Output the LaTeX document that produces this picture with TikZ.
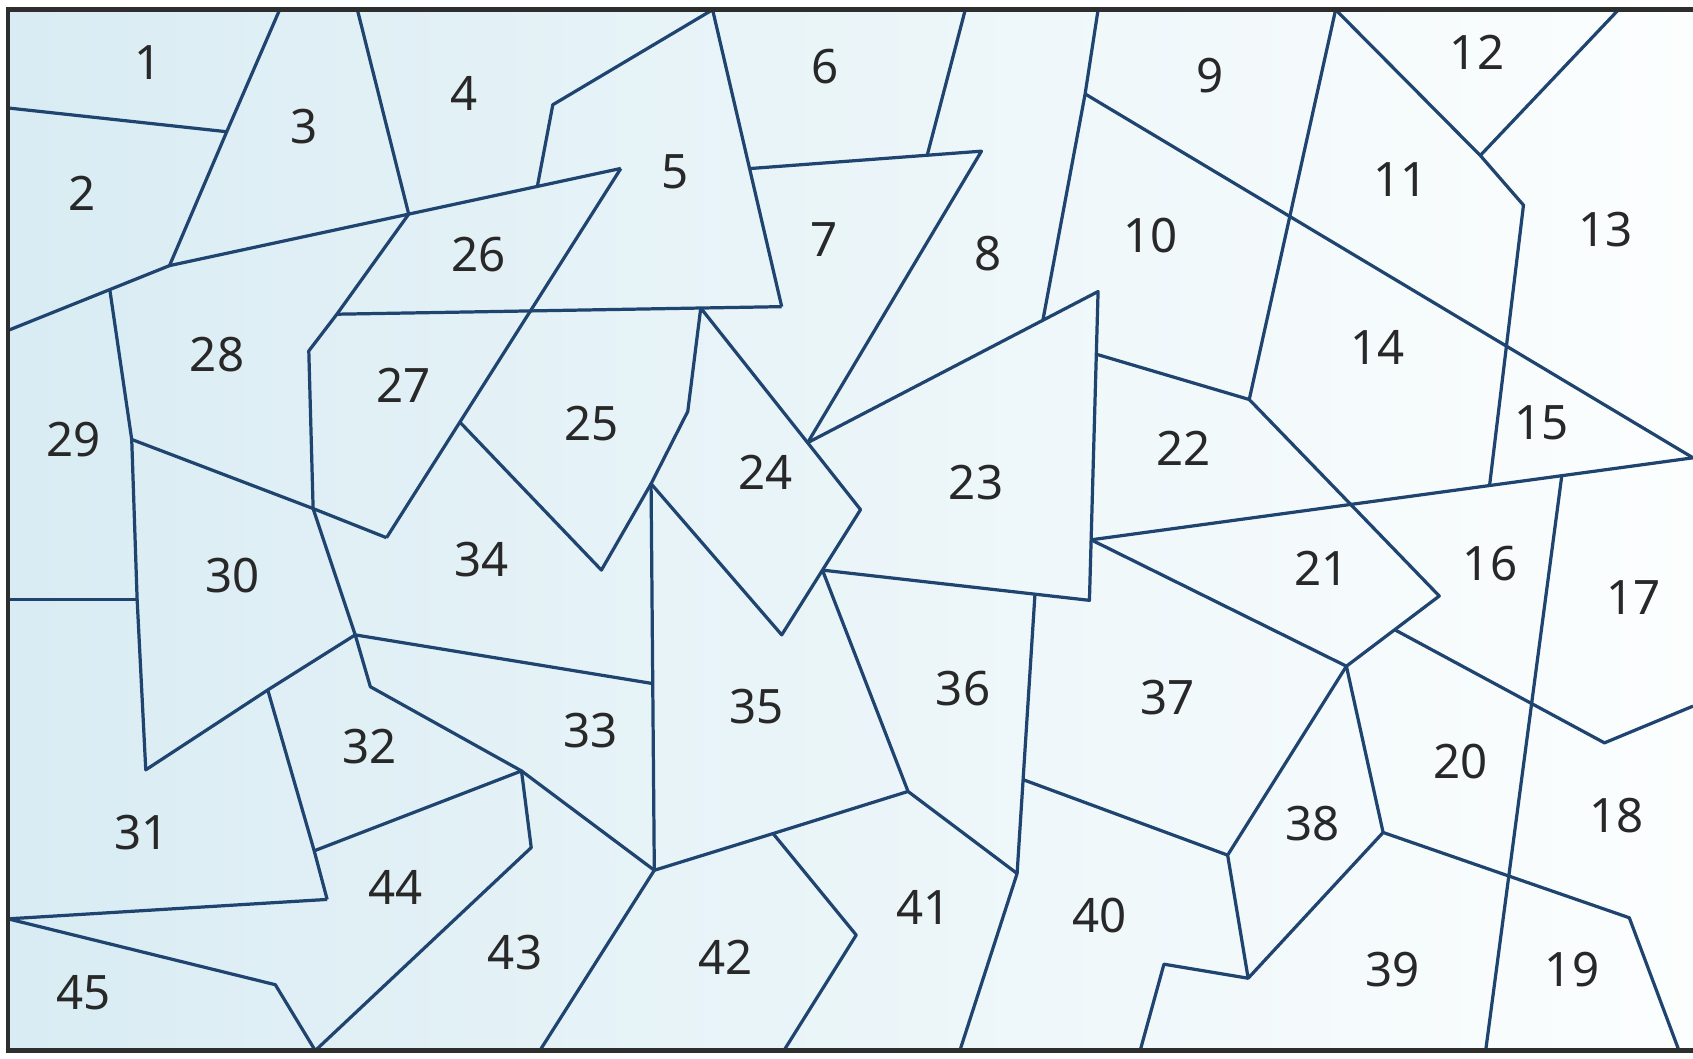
\documentclass[tikz,border=0pt]{standalone}
\usepackage{fontspec}
\setmainfont{Noto Sans}
\usetikzlibrary{calc}

\definecolor{edgeblue}{HTML}{1F4470}
\definecolor{framegray}{HTML}{2E2E2E}
\definecolor{mapleft}{HTML}{D9ECF3}
\definecolor{mapright}{HTML}{FCFEFE}
\definecolor{labelgray}{HTML}{282828}

\begin{document}
\begin{tikzpicture}[x=0.1mm, y=-0.1mm,
    edge/.style={edgeblue, line width=0.85pt, line join=round},
    region/.style={labelgray, inner sep=0pt, font=\fontsize{12.5}{14}\selectfont}]
    \useasboundingbox (0,0) rectangle (1568,980);

    % Background
    \shade[left color=mapleft, right color=mapright] (7.5,9) rectangle (1568,973);

    % Points on the frame
    \coordinate (t1) at (259,9);   \coordinate (t2) at (331,9);
    \coordinate (t3) at (660,9);   \coordinate (t4) at (894,9);
    \coordinate (t5) at (1017,9);  \coordinate (t6) at (1237,9);
    \coordinate (t7) at (1499,9);
    \coordinate (l1) at (7.5,100); \coordinate (l2) at (7.5,306);
    \coordinate (l3) at (7.5,555); \coordinate (l4) at (7.5,851);
    \coordinate (b1) at (292,973); \coordinate (b2) at (500,973);
    \coordinate (b3) at (726,973); \coordinate (b4) at (889,973);
    \coordinate (b5) at (1056,973); \coordinate (b6) at (1376,973);
    \coordinate (b7) at (1555,973);
    \coordinate (r1) at (1568,424); \coordinate (r2) at (1568,654);

    % Inner corners
    \coordinate (a) at (210,122);   \coordinate (b) at (157,246);
    \coordinate (g) at (575,156);   \coordinate (f) at (512,97);
    \coordinate (h) at (312,291);   \coordinate (i) at (286,325);
    \coordinate (j) at (290,471);   \coordinate (k) at (358,498);
    \coordinate (o) at (724,284);   \coordinate (r) at (909,140);
    \coordinate (s) at (748,410);   \coordinate (v) at (637,381);
    \coordinate (w) at (603,448);   \coordinate (x) at (557,528);
    \coordinate (y) at (797,472);   \coordinate (z) at (724,588);
    \coordinate (aa) at (1017,270); \coordinate (ab) at (1005,87);
    \coordinate (ae) at (1157,370); \coordinate (af) at (1371,144);
    \coordinate (ag) at (1411,190); \coordinate (am) at (1009,556);
    \coordinate (ap) at (1333,552); \coordinate (aq) at (1247,617);
    \coordinate (at) at (1486,688); \coordinate (au) at (122,407);
    \coordinate (av) at (127,555);  \coordinate (aw) at (135,713);
    \coordinate (ax) at (248,639);  \coordinate (ay) at (329,588);
    \coordinate (az) at (343,636);  \coordinate (ba) at (483,714);
    \coordinate (bb) at (492,785);  \coordinate (bc) at (291,788);
    \coordinate (bd) at (303,833);  \coordinate (be) at (255,912);
    \coordinate (bg) at (606,806);  \coordinate (bh) at (716,772);
    \coordinate (bi) at (841,733);  \coordinate (bj) at (942,809);
    \coordinate (bm) at (1137,792); \coordinate (bn) at (1156,906);
    \coordinate (bo) at (1078,893); \coordinate (bp) at (1281,771);
    \coordinate (br) at (1509,850); \coordinate (bs) at (793,866);

    % Corners lying on other lines
    \coordinate (c) at ($(l2)!0.63!(b)$);
    \coordinate (d) at ($(b)!0.53!(g)$);
    \coordinate (e) at ($(b)!0.815!(g)$);
    \coordinate (m) at ($(g)!0.687!(k)$);
    \coordinate (u) at ($(h)!0.818!(o)$);
    \coordinate (p) at ($(t3)!0.535!(o)$);
    \coordinate (q) at ($(p)!0.766!(r)$);
    \coordinate (ac) at ($(s)!0.81!(aa)$);
    \coordinate (aj) at ($(aa)!0.203!(am)$);
    \coordinate (al) at ($(aa)!0.804!(am)$);
    \coordinate (ai) at ($(al)!0.662!(r1)$);
    \coordinate (ao) at ($(al)!0.782!(r1)$);
    \coordinate (ar) at ($(ap)!0.48!(aq)$);
    \coordinate (an) at ($(y)!0.483!(z)$);
    \coordinate (bk) at ($(an)!0.796!(am)$);
    \coordinate (bl) at ($(bk)!0.664!(bj)$);
    \coordinate (bf) at ($(w)!0.517!(bg)$);

    % Borders between the regions
    \draw[edge] (l1) -- (a);
    \draw[edge] (t1) -- (a) -- (b);
    \draw[edge] (l2) -- (b) -- (g);
    \draw[edge] (t2) -- (d);
    \draw[edge] (e) -- (f) -- (t3) -- (o);
    \draw[edge] (g) -- (k);
    \draw[edge] (d) -- (h) -- (i) -- (j) -- (k);
    \draw[edge] (h) -- (o);
    \draw[edge] (c) -- (au) -- (av) -- (aw) -- (ax) -- (ay);
    \draw[edge] (l3) -- (av);
    \draw[edge] (au) -- (j) -- (ay);
    \draw[edge] (m) -- (x) -- (w) -- (v) -- (u);
    \draw[edge] (p) -- (r) -- (s);
    \draw[edge] (t4) -- (q);
    \draw[edge] (u) -- (s) -- (y) -- (z) -- (w);
    \draw[edge] (w) -- (bg);
    \draw[edge] (s) -- (aa) -- (am) -- (an);
    \draw[edge] (t5) -- (ab) -- (ac);
    \draw[edge] (ab) -- (r1);
    \draw[edge] (t6) -- (ae);
    \draw[edge] (t6) -- (af) -- (ag) -- (ai);
    \draw[edge] (t7) -- (af);
    \draw[edge] (aj) -- (ae) -- (ap) -- (aq);
    \draw[edge] (al) -- (r1);
    \draw[edge] (al) -- (aq);
    \draw[edge] (ao) -- (b6);
    \draw[edge] (ar) -- (at) -- (r2);
    \draw[edge] (aq) -- (bp) -- (br) -- (b7);
    \draw[edge] (aq) -- (bm) -- (bn) -- (bp);
    \draw[edge] (bn) -- (bo) -- (b5);
    \draw[edge] (bl) -- (bm);
    \draw[edge] (bk) -- (bj) -- (b4);
    \draw[edge] (an) -- (bi) -- (bj);
    \draw[edge] (bg) -- (bh) -- (bi);
    \draw[edge] (bh) -- (bs) -- (b3);
    \draw[edge] (bg) -- (b2);
    \draw[edge] (ay) -- (bf);
    \draw[edge] (ay) -- (az) -- (ba) -- (bg);
    \draw[edge] (ax) -- (bc) -- (bd);
    \draw[edge] (bc) -- (ba) -- (bb) -- (b1);
    \draw[edge] (l4) -- (bd);
    \draw[edge] (l4) -- (be) -- (b1);

    % Frame (open on the right)
    \draw[framegray, line width=1.2pt] (1568,9) -- (7.5,9) -- (7.5,973) -- (1568,973);

    % Region numbers
    \node[region] (n1) at (137,58) {1};    \node[region] (n2) at (76,179) {2};
    \node[region] (n3) at (282,117) {3};   \node[region] (n4) at (430,87) {4};
    \node[region] (n5) at (625,159) {5};   \node[region] (n6) at (764,62) {6};
    \node[region] (n7) at (763,222) {7};   \node[region] (n8) at (915,235) {8};
    \node[region] (n9) at (1121,70) {9};   \node[region] (n10) at (1066,218) {10};
    \node[region] (n11) at (1297,166) {11}; \node[region] (n12) at (1368,48) {12};
    \node[region] (n13) at (1487,213) {13}; \node[region] (n14) at (1276,322) {14};
    \node[region] (n15) at (1428,392) {15}; \node[region] (n16) at (1380,522) {16};
    \node[region] (n17) at (1513,553) {17}; \node[region] (n18) at (1497,755) {18};
    \node[region] (n19) at (1456,898) {19}; \node[region] (n20) at (1353,705) {20};
    \node[region] (n21) at (1224,526) {21}; \node[region] (n22) at (1096,415) {22};
    \node[region] (n23) at (904,447) {23};  \node[region] (n24) at (709,437) {24};
    \node[region] (n25) at (548,392) {25};  \node[region] (n26) at (443,236) {26};
    \node[region] (n27) at (374,357) {27};  \node[region] (n28) at (201,328) {28};
    \node[region] (n29) at (68,407) {29};   \node[region] (n30) at (215,533) {30};
    \node[region] (n31) at (131,771) {31};  \node[region] (n32) at (342,691) {32};
    \node[region] (n33) at (547,677) {33};  \node[region] (n34) at (446,518) {34};
    \node[region] (n35) at (701,654) {35};  \node[region] (n36) at (892,638) {36};
    \node[region] (n37) at (1081,646) {37}; \node[region] (n38) at (1216,763) {38};
    \node[region] (n39) at (1290,898) {39}; \node[region] (n40) at (1018,848) {40};
    \node[region] (n41) at (855,840) {41};  \node[region] (n42) at (672,887) {42};
    \node[region] (n43) at (477,882) {43};  \node[region] (n44) at (366,822) {44};
    \node[region] (n45) at (77,919) {45};
\end{tikzpicture}
\end{document}
